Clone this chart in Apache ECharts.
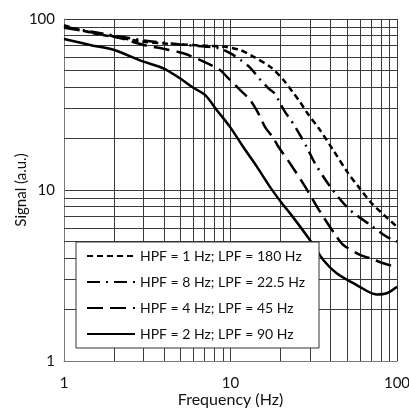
<!DOCTYPE html>
<html>
<head>
<meta charset="utf-8">
<script src="https://cdn.jsdelivr.net/npm/echarts@6/dist/echarts.min.js"></script>
<style>
html,body{margin:0;padding:0;background:#fff;}
#chart{width:409px;height:411px;}
</style>
</head>
<body>
<div id="chart"></div>
<script>
// ---- data ----
const seriesNames = [
  'HPF = 1 Hz; LPF = 180 Hz',
  'HPF = 8 Hz; LPF = 22.5 Hz',
  'HPF = 4 Hz; LPF = 45 Hz',
  'HPF = 2 Hz; LPF = 90 Hz'
];
const freq1 = [1,1.5,2,3,4,5,7,9,11.4,13.7,17.3,20.8,23.8,26,28.7,34.5,41.4,51,58.5,70.5,100];
const sig1  = [92,82.5,78.7,73.6,72,71,69.8,69,65.9,60.2,52.6,44,37,33,28.5,22.4,17.1,12.5,10.5,8.36,6.1];

const freq2 = [1,2,3,5,7,8.5,10,11.5,13.1,15,16.9,18.5,19.8,21.2,22.8,24.4,26.5,28.7,32.2,39.6,51,70.5,86.7,100];
const sig2  = [90,80,75,71,69,67.5,63,57.5,52,44.5,39.3,36.5,32.3,28.7,26,23.5,20.5,17.8,14.3,10.5,7.8,6.16,5.33,4.99];

const freq3 = [1,2,3,3.95,5.2,6.9,8.65,9.49,11.4,13.1,14.7,16.1,18.1,19.4,22.8,28,34.5,43.4,47.6,60,68.9,82.8,100];
const sig3  = [89,79,70.5,67,63,56.3,50.3,46,38.5,33.6,28.1,23.4,20.1,17.9,14.3,10.5,7.47,5.33,4.77,4.17,3.99,3.73,3.53];

const freq4 = [1,1.5,2,3,3.95,4.97,5.98,7.03,8.26,9.93,11.9,14.4,17.3,20.3,22.8,30,36.1,43.4,57.3,75.5,86.7,100];
const sig4  = [76.4,69.8,65.9,56.3,51.5,45,39.6,36,29.4,23.4,17.9,13.7,10.4,8.4,7.3,5.1,3.9,3.26,2.78,2.45,2.49,2.72];

const minorGridValues = [2,3,4,5,6,7,8,9,20,30,40,50,60,70,80,90];
const axisTicks = [1,10,100];

function pairs(xs, ys){ return xs.map((x,i)=>[x, ys[i]]); }

const FONT = 'Lato, "Open Sans", sans-serif';
const gridColor = '#3a3a3a';
const textColor = '#111';

const chart = echarts.init(document.getElementById('chart'), null, {renderer:'canvas'});

const gridMarks = [];
minorGridValues.forEach(v => { gridMarks.push({xAxis: v}); gridMarks.push({yAxis: v}); });

const dashTypes = [[6,4],[13,6,2,6],[16,7],'solid'];
const dataSets = [pairs(freq1,sig1), pairs(freq2,sig2), pairs(freq3,sig3), pairs(freq4,sig4)];

const series = [{
  name: '_grid',
  type: 'line',
  data: [],
  z: 1,
  silent: true,
  markLine: {
    silent: true,
    z: 1,
    symbol: ['none','none'],
    label: {show:false},
    lineStyle: {color: gridColor, width: 1, type: 'solid'},
    emphasis: {disabled: true},
    animation: false,
    data: gridMarks
  }
}];
seriesNames.forEach((n,i)=>{
  series.push({
    name: n,
    type: 'line',
    data: dataSets[i],
    smooth: 0.3,
    showSymbol: false,
    symbol: 'none',
    z: 3,
    lineStyle: {color:'#000', width: 2.5, type: dashTypes[i]},
    itemStyle: {color:'#000'}
  });
});

chart.setOption({
  animation: false,
  backgroundColor: '#fff',
  grid: {left: 64, right: 12, top: 19, bottom: 50, containLabel: false, outerBoundsMode: 'none'},
  xAxis: {
    type: 'log', logBase: 10, min: axisTicks[0], max: axisTicks[2],
    name: 'Frequency (Hz)', nameLocation: 'middle', nameGap: 31, nameMoveOverlap: false,
    nameTextStyle: {fontFamily: FONT, fontSize: 16, color: textColor},
    axisLine: {show: true, lineStyle: {color: '#777', width: 1}},
    axisTick: {show: false},
    axisLabel: {fontFamily: FONT, fontSize: 15, color: textColor, margin: 15},
    splitLine: {show: true, lineStyle: {color: gridColor, width: 1}}
  },
  yAxis: {
    type: 'log', logBase: 10, min: axisTicks[0], max: axisTicks[2],
    name: 'Signal (a.u.)', nameLocation: 'middle', nameGap: 35, nameMoveOverlap: false,
    nameTextStyle: {fontFamily: FONT, fontSize: 15, color: textColor},
    axisLine: {show: true, lineStyle: {color: '#777', width: 1}},
    axisTick: {show: false},
    axisLabel: {fontFamily: FONT, fontSize: 15, color: textColor, margin: 9},
    splitLine: {show: true, lineStyle: {color: gridColor, width: 1}}
  },
  legend: {
    data: seriesNames,
    orient: 'vertical',
    left: 76, top: 242,
    z: 10,
    backgroundColor: '#fff',
    borderColor: '#333', borderWidth: 1,
    padding: [7, 14, 7, 10],
    itemWidth: 48, itemHeight: 14, itemGap: 12,
    selectedMode: false,
    itemStyle: {color: 'rgba(0,0,0,0)', borderWidth: 0, opacity: 0},
    textStyle: {fontFamily: FONT, fontSize: 14, color: textColor, lineHeight: 14}
  },
  series: series
});
</script>
</body>
</html>
